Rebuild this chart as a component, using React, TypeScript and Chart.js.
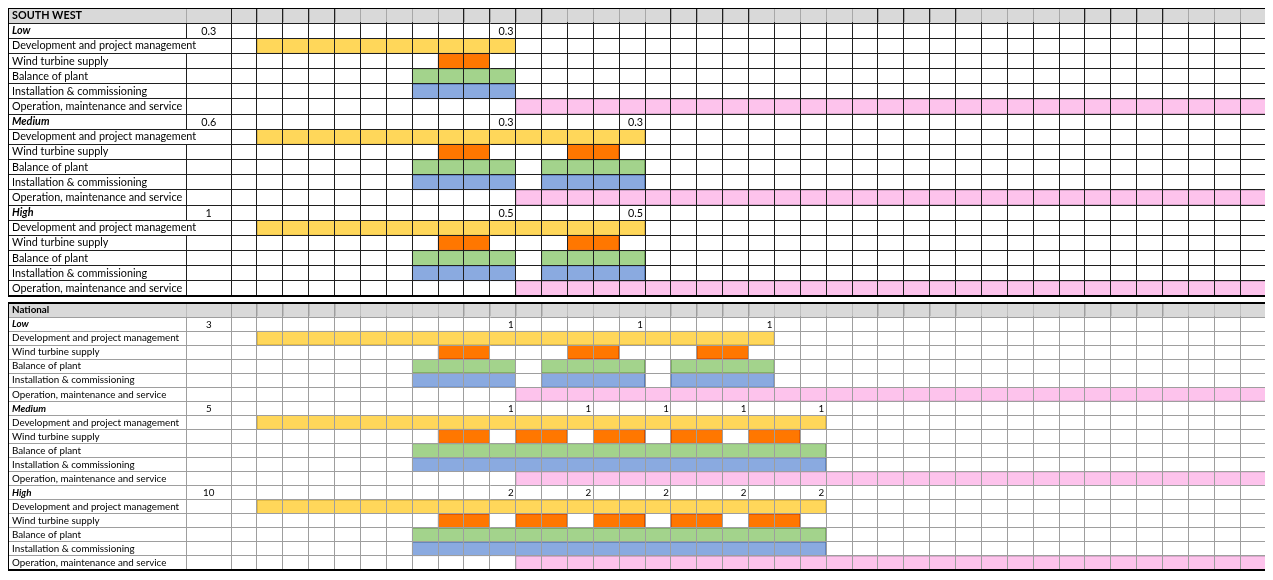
import React, { useEffect, useRef } from "react";
import { Chart, registerables } from "chart.js";

Chart.register(...registerables);

type Seg = [number, number];

// ---------- data ----------
const TASKS = [
  "Development and project management",
  "Wind turbine supply",
  "Balance of plant",
  "Installation & commissioning",
  "Operation, maintenance and service",
];
const SCENARIOS = ["Low", "Medium", "High"];
const COLUMN_COUNT = 40;

const SW_TITLE = "SOUTH WEST";
const SW_TOTALS = ["0.3", "0.6", "1"];
// [startColumn, endColumn) per task, per scenario
const SW_LOW: Seg[][] = [[[1, 11]], [[8, 10]], [[7, 11]], [[7, 11]], [[11, 40]]];
const SW_MEDIUM: Seg[][] = [
  [[1, 16]],
  [[8, 10], [13, 15]],
  [[7, 11], [12, 16]],
  [[7, 11], [12, 16]],
  [[11, 40]],
];
const SW_HIGH: Seg[][] = [
  [[1, 16]],
  [[8, 10], [13, 15]],
  [[7, 11], [12, 16]],
  [[7, 11], [12, 16]],
  [[11, 40]],
];
const SW_MILESTONE_COLS = [[10], [10, 15], [10, 15]];
const SW_MILESTONE_VALUES = [["0.3"], ["0.3", "0.3"], ["0.5", "0.5"]];

const NAT_TITLE = "National";
const NAT_TOTALS = ["3", "5", "10"];
const NAT_LOW: Seg[][] = [
  [[1, 21]],
  [[8, 10], [13, 15], [18, 20]],
  [[7, 11], [12, 16], [17, 21]],
  [[7, 11], [12, 16], [17, 21]],
  [[11, 40]],
];
const NAT_MEDIUM: Seg[][] = [
  [[1, 23]],
  [[8, 10], [11, 13], [14, 16], [17, 19], [20, 22]],
  [[7, 23]],
  [[7, 23]],
  [[11, 40]],
];
const NAT_HIGH: Seg[][] = [
  [[1, 23]],
  [[8, 10], [11, 13], [14, 16], [17, 19], [20, 22]],
  [[7, 23]],
  [[7, 23]],
  [[11, 40]],
];
const NAT_MILESTONE_COLS = [[10, 15, 20], [10, 13, 16, 19, 22], [10, 13, 16, 19, 22]];
const NAT_MILESTONE_VALUES = [
  ["1", "1", "1"],
  ["1", "1", "1", "1", "1"],
  ["2", "2", "2", "2", "2"],
];

// ---------- styles ----------
const TASK_COLORS = ["#FFD75A", "#FF7700", "#A3D38C", "#8AAAE0", "#FDC3EC"];
const TASK_BORDERS = ["#C9A233", "#C23A00", "#5E8F46", "#4169A8", "#B488A8"];
const FONT_FAMILY = "Lato, 'Noto Sans', sans-serif";
const LABEL_COL_W = 178;
const VALUE_COL_W = 45;
const CANVAS_W = 1264;

interface TableProps {
  title: string;
  totals: string[];
  segments: Seg[][][];
  milestoneCols: number[][];
  milestoneValues: string[][];
  height: number;
  top: number;
  fontSize: number;
  gridColor: string;
  headerGridColor: string;
}

function TableChart(props: TableProps) {
  const ref = useRef<HTMLCanvasElement>(null);
  useEffect(() => {
    const { title, totals, segments, milestoneCols, milestoneValues, fontSize, gridColor, headerGridColor } = props;
    const labels: string[] = [title];
    SCENARIOS.forEach((s) => {
      labels.push(s);
      TASKS.forEach((t) => labels.push(t));
    });
    const rowCount = labels.length;
    const scenarioRow = (s: number) => 1 + s * (TASKS.length + 1);

    const datasets: any[] = [];
    TASKS.forEach((task, t) => {
      const maxSegs = Math.max(...segments.map((sc) => sc[t].length));
      for (let j = 0; j < maxSegs; j++) {
        const data: (Seg | null)[] = new Array(rowCount).fill(null);
        segments.forEach((sc, s) => {
          const seg = sc[t][j];
          if (seg) data[scenarioRow(s) + 1 + t] = seg;
        });
        datasets.push({
          label: task,
          data,
          backgroundColor: TASK_COLORS[t],
          borderColor: TASK_BORDERS[t],
          borderWidth: 1,
          borderSkipped: false,
          grouped: false,
          barPercentage: 1,
          categoryPercentage: 1,
        });
      }
    });

    const fontFor = (i: number) => {
      const isScenario = SCENARIOS.some((_, s) => scenarioRow(s) === i);
      return {
        family: FONT_FAMILY,
        size: fontSize,
        weight: i === 0 || isScenario ? "bold" : "normal",
        style: isScenario ? "italic" : "normal",
        lineHeight: 1.1,
      } as any;
    };
    const cssFont = (i: number) => {
      const f = fontFor(i);
      return `${f.style} ${f.weight} ${f.size}px ${f.family}`;
    };

    const tablePlugin = {
      id: "tableDecor",
      beforeDraw(chart: any) {
        const { ctx, chartArea } = chart;
        const rowH = (chartArea.bottom - chartArea.top) / rowCount;
        const left = chartArea.left - LABEL_COL_W - VALUE_COL_W;
        ctx.save();
        ctx.fillStyle = "#D9D9D9";
        ctx.fillRect(left, chartArea.top, chartArea.right - left, rowH);
        ctx.restore();
      },
      afterDraw(chart: any) {
        const { ctx, chartArea } = chart;
        const x = chart.scales.x;
        const y = chart.scales.y;
        const rowH = (chartArea.bottom - chartArea.top) / rowCount;
        const left = chartArea.left - LABEL_COL_W - VALUE_COL_W;
        const sepX = Math.round(chartArea.left - VALUE_COL_W) + 0.5;
        ctx.save();
        // lighter cell borders in the header row
        ctx.strokeStyle = headerGridColor;
        ctx.lineWidth = 1;
        for (let c = 1; c < COLUMN_COUNT; c++) {
          const px = Math.round(x.getPixelForValue(c)) + 0.5;
          ctx.beginPath();
          ctx.moveTo(px, chartArea.top + 1);
          ctx.lineTo(px, chartArea.top + rowH - 1);
          ctx.stroke();
        }
        // separator between label and value column (hidden where text overflows)
        ctx.strokeStyle = gridColor;
        for (let i = 0; i < rowCount; i++) {
          ctx.font = cssFont(i);
          const w = ctx.measureText(labels[i]).width;
          if (y.left + w + 2 > sepX) continue;
          const cy = y.getPixelForValue(i);
          ctx.strokeStyle = i === 0 ? headerGridColor : gridColor;
          ctx.beginPath();
          ctx.moveTo(sepX, cy - rowH / 2);
          ctx.lineTo(sepX, cy + rowH / 2);
          ctx.stroke();
        }
        // totals
        ctx.fillStyle = "#000";
        ctx.textBaseline = "middle";
        ctx.textAlign = "center";
        ctx.font = `normal ${fontSize}px ${FONT_FAMILY}`;
        totals.forEach((v, s) => {
          ctx.fillText(v, (sepX + chartArea.left) / 2, y.getPixelForValue(scenarioRow(s)) + 0.5);
        });
        // milestone values
        ctx.textAlign = "right";
        milestoneCols.forEach((cols, s) => {
          cols.forEach((c, k) => {
            ctx.fillText(
              milestoneValues[s][k],
              x.getPixelForValue(c + 1) - 2,
              y.getPixelForValue(scenarioRow(s)) + 0.5
            );
          });
        });
        // outer border
        ctx.strokeStyle = "#000";
        ctx.lineWidth = 2;
        ctx.strokeRect(left, chartArea.top, chartArea.right - left, chartArea.bottom - chartArea.top);
        ctx.restore();
      },
    };

    const chart = new Chart(ref.current!, {
      type: "bar",
      data: { labels, datasets },
      options: {
        animation: false,
        responsive: true,
        maintainAspectRatio: false,
        indexAxis: "y",
        events: [],
        layout: { padding: { top: 2, bottom: 4, left: 6, right: 4 } },
        plugins: {
          legend: { display: false },
          tooltip: { enabled: false },
        },
        scales: {
          x: {
            type: "linear",
            min: 0,
            max: COLUMN_COUNT,
            position: "bottom",
            afterBuildTicks: (s: any) => {
              const t: any[] = [];
              for (let i = 0; i <= COLUMN_COUNT; i++) t.push({ value: i });
              s.ticks = t;
            },
            afterFit: (s: any) => {
              s.height = 0;
              s.paddingLeft = 0;
              s.paddingRight = 0;
              s.paddingTop = 0;
              s.paddingBottom = 0;
            },
            ticks: { display: false },
            grid: { color: gridColor, lineWidth: 1, drawTicks: false, z: 1 },
            border: { display: false },
          },
          y: {
            type: "category",
            offset: true,
            afterFit: (s: any) => {
              s.width = LABEL_COL_W + VALUE_COL_W - 4;
              s.paddingTop = 0;
              s.paddingBottom = 0;
              s.paddingLeft = 0;
              s.paddingRight = 0;
            },
            ticks: {
              autoSkip: false,
              crossAlign: "far",
              color: "#000",
              padding: 0,
              font: (c: any) => fontFor(c.index),
            },
            grid: {
              color: gridColor,
              lineWidth: 1,
              offset: true,
              tickLength: LABEL_COL_W + VALUE_COL_W,
              z: 1,
            },
            border: { display: true, color: gridColor, width: 1 },
          },
        } as any,
      } as any,
      plugins: [tablePlugin],
    });
    return () => chart.destroy();
  }, []);

  return (
    <div
      style={{
        position: "absolute",
        left: -2,
        top: props.top,
        width: CANVAS_W,
        height: props.height,
      }}
    >
      <canvas ref={ref} />
    </div>
  );
}

export default function App() {
  return (
    <div style={{ position: "relative", width: 1258, height: 566 }}>
      <TableChart
        title={SW_TITLE}
        totals={SW_TOTALS}
        segments={[SW_LOW, SW_MEDIUM, SW_HIGH]}
        milestoneCols={SW_MILESTONE_COLS}
        milestoneValues={SW_MILESTONE_VALUES}
        top={-2}
        height={294}
        fontSize={10.8}
        gridColor="#1f1f1f"
        headerGridColor="#a8a8a8"
      />
      <TableChart
        title={NAT_TITLE}
        totals={NAT_TOTALS}
        segments={[NAT_LOW, NAT_MEDIUM, NAT_HIGH]}
        milestoneCols={NAT_MILESTONE_COLS}
        milestoneValues={NAT_MILESTONE_VALUES}
        top={293}
        height={273}
        fontSize={9.8}
        gridColor="#9e9e9e"
        headerGridColor="#bdbdbd"
      />
    </div>
  );
}
